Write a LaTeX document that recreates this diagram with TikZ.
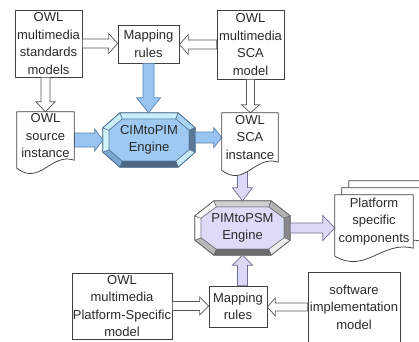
\documentclass[tikz,border=0pt]{standalone}
\usepackage{fontspec}
\setmainfont{Liberation Sans}
\usetikzlibrary{calc}
\definecolor{boxline}{HTML}{404040}
\definecolor{txt}{HTML}{2A2A2A}
\definecolor{hollowline}{HTML}{555555}
\definecolor{blueF}{HTML}{97C4F0}
\definecolor{blueL}{HTML}{5B84B1}
\definecolor{lavF}{HTML}{DADAF7}
\definecolor{lavL}{HTML}{6F6F8F}
% CIMtoPIM bevel colours
\definecolor{cimc0}{HTML}{9DC9F3}
\definecolor{cimc1}{HTML}{C9EEF8}
\definecolor{cimc2}{HTML}{A9D3F3}
\definecolor{cimc3}{HTML}{5C7894}
\definecolor{cimc4}{HTML}{C9EEF8}
\definecolor{cimc5}{HTML}{4C6784}
\definecolor{cimc6}{HTML}{7DA6D3}
\definecolor{cimc7}{HTML}{D4F4FA}
\definecolor{cimc8}{HTML}{C9EEF8}
\definecolor{cimcl}{HTML}{4F6F90}
% PIMtoPSM bevel colours
\definecolor{psmc0}{HTML}{DCDCF8}
\definecolor{psmc1}{HTML}{CFCFCF}
\definecolor{psmc2}{HTML}{B4B4B4}
\definecolor{psmc3}{HTML}{8A8A8A}
\definecolor{psmc4}{HTML}{EDEDED}
\definecolor{psmc5}{HTML}{6C6C6C}
\definecolor{psmc6}{HTML}{B8B8B8}
\definecolor{psmc7}{HTML}{FFFFFF}
\definecolor{psmc8}{HTML}{FFFFFF}
\definecolor{psmcl}{HTML}{666666}
\pgfdeclarelayer{arrowlayer}
\pgfdeclarelayer{docbg}
\pgfdeclarelayer{front}
\pgfsetlayers{main,arrowlayer,docbg,front}
\newcommand\octa[4]{%
 \coordinate (#1P1) at ($(#1.north west)+(#2,0)$);
 \coordinate (#1P2) at ($(#1.north east)+(-#2,0)$);
 \coordinate (#1P3) at ($(#1.north east)+(0,#3)$);
 \coordinate (#1P4) at ($(#1.south east)+(0,-#3)$);
 \coordinate (#1P5) at ($(#1.south east)+(-#2,0)$);
 \coordinate (#1P6) at ($(#1.south west)+(#2,0)$);
 \coordinate (#1P7) at ($(#1.south west)+(0,-#3)$);
 \coordinate (#1P8) at ($(#1.north west)+(0,#3)$);
 \coordinate (#1Q1) at ($(#1P1)+(0.41*#4,#4)$);
 \coordinate (#1Q2) at ($(#1P2)+(-0.41*#4,#4)$);
 \coordinate (#1Q3) at ($(#1P3)+(-#4,0.41*#4)$);
 \coordinate (#1Q4) at ($(#1P4)+(-#4,-0.41*#4)$);
 \coordinate (#1Q5) at ($(#1P5)+(-0.41*#4,-#4)$);
 \coordinate (#1Q6) at ($(#1P6)+(0.41*#4,-#4)$);
 \coordinate (#1Q7) at ($(#1P7)+(#4,-0.41*#4)$);
 \coordinate (#1Q8) at ($(#1P8)+(#4,0.41*#4)$);
 \begin{scope}[draw=#1cl, line width=0.5pt, line join=round]
 \filldraw[fill=#1c0] (#1Q1)--(#1Q2)--(#1Q3)--(#1Q4)--(#1Q5)--(#1Q6)--(#1Q7)--(#1Q8)--cycle;
 \filldraw[fill=#1c1] (#1P1)--(#1P2)--(#1Q2)--(#1Q1)--cycle;
 \filldraw[fill=#1c2] (#1P2)--(#1P3)--(#1Q3)--(#1Q2)--cycle;
 \filldraw[fill=#1c3] (#1P3)--(#1P4)--(#1Q4)--(#1Q3)--cycle;
 \filldraw[fill=#1c4] (#1P4)--(#1P5)--(#1Q5)--(#1Q4)--cycle;
 \filldraw[fill=#1c5] (#1P5)--(#1P6)--(#1Q6)--(#1Q5)--cycle;
 \filldraw[fill=#1c6] (#1P6)--(#1P7)--(#1Q7)--(#1Q6)--cycle;
 \filldraw[fill=#1c7] (#1P7)--(#1P8)--(#1Q8)--(#1Q7)--cycle;
 \filldraw[fill=#1c8] (#1P8)--(#1P1)--(#1Q1)--(#1Q8)--cycle;
 \draw[line width=0.7pt] (#1P1)--(#1P2)--(#1P3)--(#1P4)--(#1P5)--(#1P6)--(#1P7)--(#1P8)--cycle;
 \end{scope}
}
\newcommand\docshape[4]{%
 \filldraw[docline] ($(#1.north west)+(#3,#4)$) -- ($(#1.north east)+(#3,#4)$) -- ($(#1.south east)+(#3,#4)$)
   .. controls +({-0.4*#2},-8) and +({0.4*#2},18) .. ($(#1.south west)+(#3,#4+8)$) -- cycle;
}
\tikzset{
 arsw/.store in=\arSW, arhw/.store in=\arHW, arhl/.store in=\arHL,
 arsw=4.5pt, arhw=10pt, arhl=9pt,
 barrow/.style={line join=miter, to path={
  ($(\tikztostart)!\arSW!90:(\tikztotarget)$)
  -- ($(\tikztotarget)!\arHL!(\tikztostart)!\arSW!90:(\tikztotarget)$)
  -- ($(\tikztotarget)!\arHL!(\tikztostart)!\arHW!90:(\tikztotarget)$)
  -- (\tikztotarget)
  -- ($(\tikztotarget)!\arHL!(\tikztostart)!\arHW!-90:(\tikztotarget)$)
  -- ($(\tikztotarget)!\arHL!(\tikztostart)!\arSW!-90:(\tikztotarget)$)
  -- ($(\tikztostart)!\arSW!-90:(\tikztotarget)$)
  -- cycle}},
 hollow/.style={barrow, fill=white, draw=hollowline, line width=0.7pt},
 bluear/.style={barrow, fill=blueF, draw=blueL, line width=0.7pt},
 lavar/.style={barrow, fill=lavF, draw=lavL, line width=0.7pt},
 box/.style={draw=boxline, line width=0.75pt, fill=white, align=center, inner sep=0pt, text=txt},
 txtnode/.style={align=center, inner sep=0pt, text=txt},
 docline/.style={fill=white, draw=boxline, line width=0.75pt, line join=round},
}
\begin{document}
\begin{tikzpicture}[x=1pt,y=-1pt, font=\fontsize{13}{17.5}\selectfont]
\useasboundingbox (0,0) rectangle (419,341);
\fill[white] (0,0) rectangle (419,341);
% boxes
\node[box, minimum width=67pt, minimum height=67pt] (std) at (48.5,43.5) {OWL\\multimedia\\standards\\models};
\node[box, minimum width=61pt, minimum height=38pt] (mapA) at (148.5,44) {Mapping\\rules};
\node[box, minimum width=67pt, minimum height=69pt] (scam) at (250.5,44.5) {OWL\\multimedia\\SCA\\model};
\node[box, minimum width=58pt, minimum height=41pt] (mapB) at (238,306.5) {Mapping\\rules};
\node[box, minimum width=100pt, minimum height=66pt] (psp) at (122,306) {OWL\\multimedia\\Platform-Specific\\model};
\node[box, minimum width=92pt, minimum height=70pt] (swm) at (354,307) {software\\implementation\\model};
% engine and document texts
\begin{pgfonlayer}{front}
\node[txtnode, minimum width=92pt, minimum height=54pt] (cim) at (149,140) {CIMtoPIM\\Engine};
\node[txtnode, minimum width=95pt, minimum height=54pt] (psm) at (242.5,228) {PIMtoPSM\\Engine};
\node[txtnode, minimum width=57pt, minimum height=48pt] (srcdoc) at (45.5,136) {OWL\\source\\instance};
\node[txtnode, minimum width=56pt, minimum height=49pt] (scadoc) at (250,137.5) {OWL\\SCA\\instance};
\node[txtnode, minimum width=78pt, minimum height=53pt] (psc) at (374,221.5) {Platform\\specific\\components};
\end{pgfonlayer}
% engines
\octa{cim}{17}{15}{6}
\octa{psm}{19}{15}{6}
% connectors
\begin{pgfonlayer}{arrowlayer}
\draw[hollow, arsw=4.5pt, arhw=10pt, arhl=9pt] (std.east) to (std.east -| mapA.west);
\draw[hollow, arsw=4.5pt, arhw=10pt, arhl=9pt] (scam.west) to (scam.west -| mapA.east);
\draw[hollow, arsw=4.5pt, arhw=9.5pt, arhl=10pt] (srcdoc.north |- std.south) to (srcdoc.north);
\draw[hollow, arsw=4pt, arhw=9pt, arhl=8pt] (scam.south) to (scam.south |- scadoc.north);
\draw[bluear, arsw=5.5pt, arhw=12pt, arhl=15pt] (mapA.south) to (mapA.south |- cim.north);
\draw[bluear, arsw=7pt, arhw=11pt, arhl=8pt] (srcdoc.east |- cim.west) to (cim.west);
\draw[bluear, arsw=5.5pt, arhw=10pt, arhl=8pt] (scadoc.west -| cim.east) to (scadoc.west);
\draw[lavar, arsw=5pt, arhw=10pt, arhl=13pt] (psm.north |- scadoc.south) to (psm.north);
\draw[lavar, arsw=5pt, arhw=12.5pt, arhl=12pt] (psm.east) to (psm.east -| psc.west);
\draw[lavar, arsw=5pt, arhw=10pt, arhl=10pt] (psm.south |- mapB.north) to (psm.south);
\draw[hollow, arsw=4.5pt, arhw=9pt, arhl=9pt] (psp.east) to (psp.east -| mapB.west);
\draw[hollow, arsw=4pt, arhw=9pt, arhl=8pt] (swm.west) to (swm.west -| mapB.east);
\end{pgfonlayer}
% document shapes
\begin{pgfonlayer}{docbg}
\clip (0,0) rectangle (419,341);
\docshape{srcdoc}{57}{0}{0}
\docshape{scadoc}{56}{0}{0}
\docshape{psc}{78}{14}{-14}
\docshape{psc}{78}{7}{-7}
\docshape{psc}{78}{0}{0}
\end{pgfonlayer}
\end{tikzpicture}
\end{document}
